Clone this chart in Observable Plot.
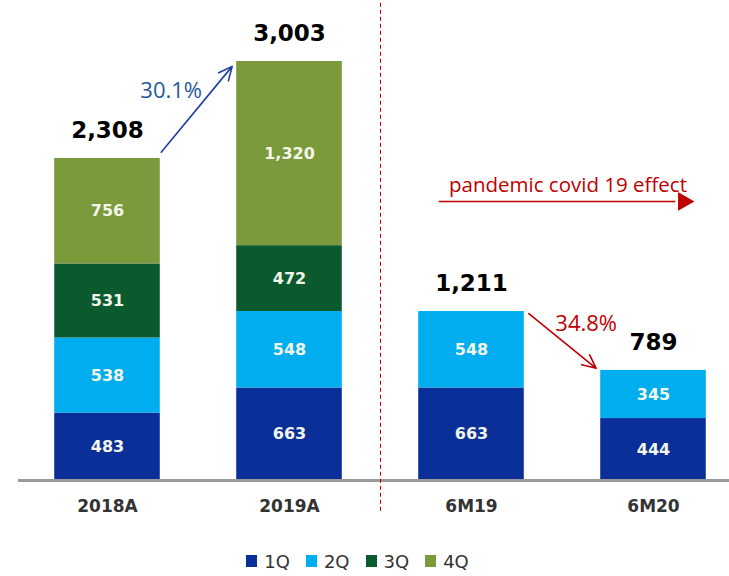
<!DOCTYPE html>
<html>
<head>
<meta charset="utf-8">
<script src="https://cdn.jsdelivr.net/npm/d3@7"></script>
<script src="https://cdn.jsdelivr.net/npm/@observablehq/plot@0.6"></script>
<style>
  html, body { margin: 0; padding: 0; background: #fff; }
  #chart { width: 729px; height: 576px; position: relative; }
  .legend { display: flex; justify-content: center; align-items: center; height: 46px;
            font-family: "DejaVu Sans", sans-serif; font-size: 18px; color: #333; box-sizing: border-box; padding-top: 16px; padding-right: 14px; }
  .legend .item { display: flex; align-items: center; margin: 0 8px; }
  .legend .sw { width: 11px; height: 12px; margin-right: 7px; display: inline-block; }
</style>
</head>
<body>
<div id="chart"></div>
<script>
// ---- data ----
const categories = ["2018A", "2019A", "6M19", "6M20"];
const quarters = ["1Q", "2Q", "3Q", "4Q"];
const q1 = [483, 663, 663, 444];
const q2 = [538, 548, 548, 345];
const q3 = [531, 472, null, null];
const q4 = [756, 1320, null, null];
const totals = [2308, 3003, 1211, 789];
const growthLabels = ["30.1%", "34.8%"];
const noteLabel = "pandemic covid 19 effect";
const colors = ["#0b2f98", "#00aeef", "#0b5a2e", "#7a9a3c"];

// ---- build stacked rows ----
const series = [q1, q2, q3, q4];
const rows = [];
categories.forEach((c, i) => {
  let acc = 0;
  series.forEach((s, k) => {
    const v = s[i];
    if (v == null) return;
    rows.push({i, cat: c, q: quarters[k], v, y1: acc, y2: acc + v});
    acc += v;
  });
});

const hw = 0.29; // half bar width in category units
const fmt = d3.format(",");

// annotation anchors derived from bars
const divider = [(1 + 2) / 2];
const arrows = [
  {x1: 0 + hw + 0.005, y1: totals[0] + 45, x2: 1 - hw - 0.025, y2: totals[1] - 35, color: "#1d3f9e"},
  {x1: 2 + hw + 0.025, y1: totals[2] - 15, x2: 3 - hw - 0.025, y2: totals[3] + 15, color: "#c00000"}
];
const growthText = [
  {x: 0.35, y: 2790, text: growthLabels[0], color: "#1f5a9a"},
  {x: 2.63, y: 1122, text: growthLabels[1], color: "#c00000"}
];

const plot = Plot.plot({
  width: 729,
  height: 530,
  marginLeft: 18,
  marginRight: 0,
  marginTop: 0,
  marginBottom: 50,
  x: {type: "linear", domain: [0, 3], range: [107, 653]},
  y: {domain: [0, 3003], range: [480, 61], axis: null},
  color: {domain: quarters, range: colors},
  style: {fontFamily: "DejaVu Sans, sans-serif", background: "#fff"},
  marks: [
    Plot.rect(rows, {x1: d => d.i - hw, x2: d => d.i + hw, y1: "y1", y2: "y2", fill: "q"}),
    Plot.text(rows, {x: "i", y: d => (d.y1 + d.y2) / 2, text: d => fmt(d.v), fill: "#f2f6ea",
      fontSize: 16, fontWeight: "bold"}),
    Plot.ruleY([0], {stroke: "#9a9a9a", strokeWidth: 3}),
    Plot.axisX({ticks: [0, 1, 2, 3], tickFormat: i => categories[i], tickSize: 0, tickPadding: 19,
      fontSize: 17, fontWeight: "bold", fill: "#333"}),
    Plot.ruleX(divider, {y1: 3420, y2: -235, stroke: "#c00000", strokeWidth: 1, strokeDasharray: "4,3"}),
    Plot.text(totals, {x: (d, i) => i, y: d => d, dy: -28, text: d => fmt(d), fontSize: 23,
      fontWeight: "bold", fill: "#000"}),
    Plot.arrow(arrows, {x1: "x1", y1: "y1", x2: "x2", y2: "y2", stroke: "color", strokeWidth: 1.6,
      headLength: 14, headAngle: 50}),
    Plot.text(growthText, {x: "x", y: "y", text: "text", fill: "color", fontSize: 22,
      fontFamily: "Open Sans, sans-serif"}),
    Plot.text([noteLabel], {x: 2.53, y: 2118, text: d => d, fill: "#c00000", fontSize: 20.5,
      fontFamily: "Open Sans, sans-serif"}),
    Plot.link([{x1: 1.82, x2: 3.12, y: 2000}], {x1: "x1", x2: "x2", y1: "y", y2: "y", stroke: "#c00000", strokeWidth: 1.5}),
    Plot.dot([{x: 3.165, y: 2000}], {x: "x", y: "y", symbol: "triangle", rotate: 90, r: 7, fill: "#c00000", stroke: "none"})
  ]
});

const root = document.getElementById("chart");
root.appendChild(plot);

const legend = document.createElement("div");
legend.className = "legend";
quarters.forEach((q, k) => {
  const it = document.createElement("span");
  it.className = "item";
  const sw = document.createElement("span");
  sw.className = "sw";
  sw.style.background = colors[k];
  it.appendChild(sw);
  it.appendChild(document.createTextNode(q));
  legend.appendChild(it);
});
root.appendChild(legend);
</script>
</body>
</html>
